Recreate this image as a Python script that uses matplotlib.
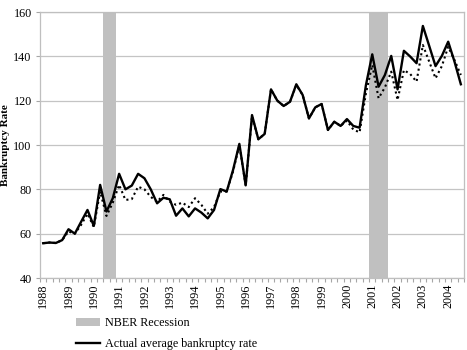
import numpy as np
import matplotlib
matplotlib.use('Agg')
import matplotlib.pyplot as plt
from matplotlib.patches import Patch
from matplotlib.lines import Line2D

plt.rcParams['font.family'] = ['Liberation Serif', 'DejaVu Serif']

# Quarterly data, 1988Q1 - 2004Q3
years = list(range(1988, 2005))
actual = [55.7, 56.0, 55.8, 57.1, 62.0, 60.0, 65.4, 70.7, 63.5, 82.0,
          70.0, 76.0, 87.0, 80.0, 81.7, 87.0, 85.0, 80.0, 73.7, 76.2,
          75.5, 68.1, 71.4, 67.8, 71.4, 69.5, 66.9, 70.7, 80.1, 79.0,
          88.7, 100.5, 81.8, 113.5, 102.6, 105.0, 125.1, 120.0, 117.6, 119.5,
          127.4, 122.6, 112.0, 117.0, 118.5, 106.8, 110.5, 108.6, 111.7, 108.6,
          107.8, 127.0, 140.9, 126.3, 131.6, 140.2, 125.1, 142.5, 139.9, 136.9,
          153.7, 144.7, 135.6, 140.2, 146.6, 137.6, 127.4]
fitted = [55.7, 56.0, 55.8, 57.1, 61.0, 60.0, 64.0, 69.0, 63.0, 79.0,
          68.0, 74.0, 82.0, 75.2, 75.6, 81.2, 80.0, 76.6, 74.4, 77.5,
          74.5, 73.0, 74.0, 72.0, 76.0, 73.0, 69.0, 72.0, 79.0, 79.0,
          88.0, 100.0, 81.8, 113.0, 102.6, 105.0, 125.0, 120.0, 117.6, 119.5,
          127.0, 122.6, 112.0, 117.0, 118.5, 106.8, 110.5, 108.6, 111.0, 107.0,
          105.7, 123.3, 136.1, 121.1, 126.0, 133.1, 120.3, 133.8, 132.0, 128.6,
          145.1, 137.6, 130.1, 135.6, 144.3, 138.3, 131.6]
# quarters flagged as NBER recession (index into the quarterly series)
recession_quarters = [10, 11, 52, 53, 54]

q = np.arange(len(actual))

fig = plt.figure(figsize=(4.67, 3.5), dpi=100)
ax = fig.add_axes([0.0857, 0.2057, 0.9079, 0.76])

ax.bar(recession_quarters, [120] * len(recession_quarters), bottom=40, width=1.0,
       color='#c0c0c0', zorder=1)
ax.plot(q, fitted, color='black', lw=1.5, ls=(0, (1, 1.5)), zorder=3)
ax.plot(q, actual, color='black', lw=1.7, zorder=4)

ax.set_xlim(-0.5, len(actual) - 0.5)
ax.set_ylim(40, 160)
ax.set_yticks(range(40, 161, 20))
ax.yaxis.grid(True, color='#c4c4c4', lw=0.9)
ax.set_axisbelow(True)

ax.set_xticks(q[::4])
ax.set_xticklabels([str(y) for y in years], rotation=90)
ax.set_xticks(np.arange(-0.5, len(actual), 1), minor=True)
ax.tick_params(axis='x', which='major', length=0, pad=4, labelsize=8.7)
ax.tick_params(axis='x', which='minor', length=3, color='#a6a6a6', width=0.8)
ax.tick_params(axis='y', length=3, color='#a6a6a6', width=0.8, labelsize=8.7, pad=3)

for s in ax.spines.values():
    s.set_color('#bfbfbf')
    s.set_linewidth(0.9)

ax.set_ylabel('Bankruptcy Rate', fontsize=8, fontweight='bold')
ax.yaxis.set_label_coords(-0.07, 0.5)

handles = [Patch(facecolor='#c0c0c0', edgecolor='none'),
           Line2D([0], [0], color='black', lw=1.7)]
labels = ['NBER Recession', 'Actual average bankruptcy rate']
fig.legend(handles, labels, loc='upper left', bbox_to_anchor=(0.163, 0.094),
           frameon=False, fontsize=8.7, handlelength=2.0, handleheight=0.6,
           handletextpad=0.35, labelspacing=0.75, borderpad=0, borderaxespad=0)

fig.savefig('out.png', dpi=100)
